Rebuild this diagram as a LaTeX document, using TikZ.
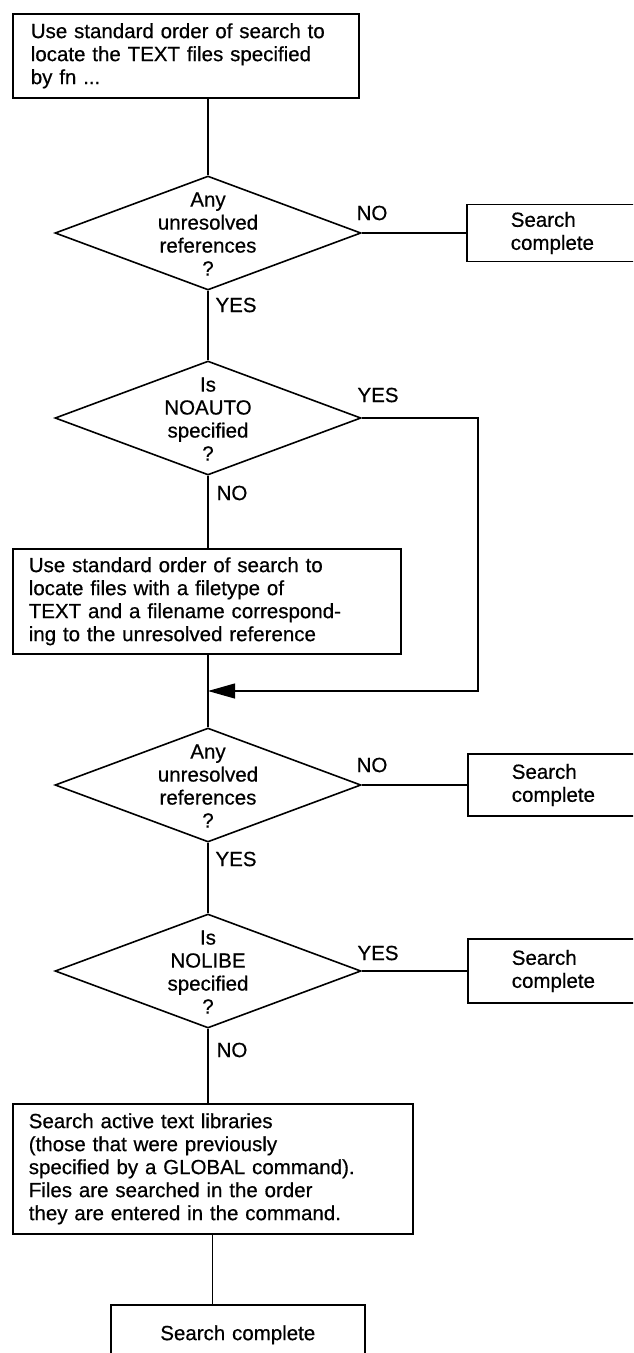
\documentclass[tikz,border=0pt]{standalone}
\usepackage{fontspec}
\setmainfont[FakeBold=0.5]{Liberation Sans}
\usetikzlibrary{shapes.geometric,arrows.meta}
\begin{document}
\begin{tikzpicture}[x=1pt,y=-1pt,
  every node/.style={font=\fontsize{20.5}{23}\selectfont},
  box/.style={draw,line width=1.6pt,rectangle,inner ysep=0pt,align=left},
  dia/.style={draw,line width=1.6pt,shape=diamond,inner sep=0pt,minimum width=306pt,minimum height=114pt},
  dtext/.style={align=center,inner sep=0pt},
  lab/.style={inner sep=0pt},
  conn/.style={line width=1.1pt}]
\useasboundingbox (0,0) rectangle (633,1353);
\clip (0,0) rectangle (633,1353);

% top box
\node[box,anchor=north west,minimum width=346pt,minimum height=84pt,inner xsep=18pt,text width=310pt] (top) at (12,13)
  {Use standard order of search to\\locate the TEXT files specified\\by fn ...};

% diamond 1
\node[dia] (d1) at (208,233) {};
\node[dtext] (d1t) at (208,234) {Any\\unresolved\\references\\?};
\node[box,anchor=west,minimum width=174pt,minimum height=57pt,inner xsep=44pt,text width=86pt] (s1) at (466,233) {Search\\complete};

% diamond 2
\node[dia] (d2) at (208,418) {};
\node[dtext] (d2t) at (208,419) {Is\\NOAUTO\\specified\\?};

% box 2
\node[box,anchor=north west,minimum width=388pt,minimum height=105pt,inner xsep=16pt,text width=356pt] (b2) at (12,548)
  {Use standard order of search to\\locate files with a filetype of\\TEXT and a filename correspond-\\ing to the unresolved reference};

% diamond 3
\node[dia] (d3) at (208,785) {};
\node[dtext] (d3t) at (208,786) {Any\\unresolved\\references\\?};
\node[box,anchor=west,minimum width=174pt,minimum height=62pt,inner xsep=44pt,text width=86pt] (s2) at (467,785) {Search\\complete};

% diamond 4
\node[dia] (d4) at (208,971) {};
\node[dtext] (d4t) at (208,972) {Is\\NOLIBE\\specified\\?};
\node[box,anchor=west,minimum width=174pt,minimum height=64pt,inner xsep=44pt,text width=86pt] (s3) at (467,971) {Search\\complete};

% box 4
\node[box,anchor=north west,minimum width=400pt,minimum height=130pt,inner xsep=16pt,text width=368pt] (b4) at (12,1103)
  {Search active text libraries\\(those that were previously\\specified by a GLOBAL command).\\Files are searched in the order\\they are entered in the command.};

% final box
\node[box,anchor=north west,minimum width=254pt,minimum height=60pt,inner xsep=0pt,text width=254pt,align=center] (b5) at (110,1304) {Search complete};

% connectors
\coordinate (j) at (208,691);
\coordinate (c1) at (478,418);
\coordinate (c2) at (478,691);
\draw[conn] (top.south -| d1.north) -- (d1.north);
\draw[conn] (d1.east) -- (s1.west);
\draw[conn] (d1.south) -- (d2.north);
\draw[conn] (d2.south) -- (b2.north -| d2.south);
\draw[conn] (b2.south -| d3.north) -- (d3.north);
\draw[conn,-{Triangle[length=27pt,width=15pt]}] (d2.east) -- (c1) -- (c2) -- (j);
\draw[conn] (d3.east) -- (s2.west);
\draw[conn] (d3.south) -- (d4.north);
\draw[conn] (d4.east) -- (s3.west);
\draw[conn] (d4.south) -- (b4.north -| d4.south);
\draw[conn] (b4.south) -- (b5.north -| b4.south);

% labels
\node[lab] (l1) at (372,213) {NO};
\node[lab] (l2) at (236,305) {YES};
\node[lab] (l3) at (378,395) {YES};
\node[lab] (l4) at (232,493) {NO};
\node[lab] (l5) at (372,765) {NO};
\node[lab] (l6) at (236,859) {YES};
\node[lab] (l7) at (378,953) {YES};
\node[lab] (l8) at (232,1050) {NO};
\end{tikzpicture}
\end{document}
